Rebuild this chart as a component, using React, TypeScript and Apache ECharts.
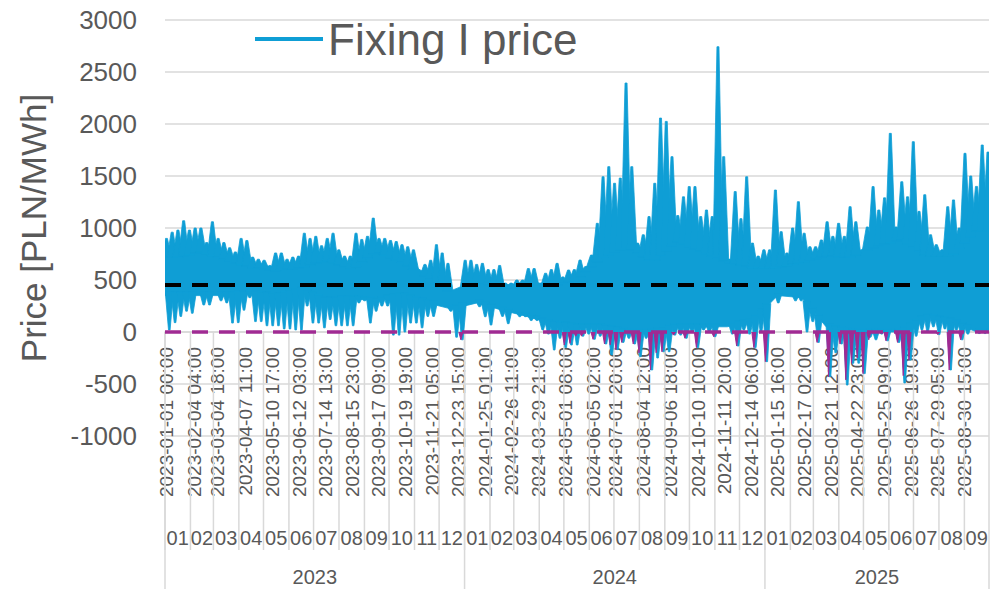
import React, { useEffect, useRef } from "react";
import * as echarts from "echarts";

const seriesName = "Fixing I price";
const startDate = "2023-01-01";
const endDate = "2025-10-01";
const averagePrice = 452;
const zeroLevel = 0;
const yMin = -1000;
const yMax = 3000;
const yInterval = 500;

// weekly extremes of the hourly price (week 0 starts 2023-01-01)
const weeklyMax = [
  900, 960, 980, 1070, 980, 1000, 1000, 860, 1060, 900,
  860, 810, 770, 900, 880, 720, 700, 690, 640, 760,
  760, 700, 720, 730, 950, 900, 920, 830, 900, 950,
  790, 730, 730, 950, 890, 920, 1095, 900, 900, 880,
  870, 840, 820, 790, 600, 650, 690, 840, 760, 660,
  400, 420, 690, 690, 650, 660, 600, 600, 640, 470,
  470, 500, 500, 610, 610, 470, 565, 600, 660, 530,
  596, 600, 692, 630, 740, 1045, 1493, 1590, 1430, 1480,
  2394, 1590, 855, 935, 1110, 1430, 2057, 2025, 1686, 1120,
  1300, 1398, 1398, 1110, 1173, 1110, 2743, 1686, 700, 1350,
  1090, 1493, 855, 730, 790, 790, 1365, 965, 760, 1000,
  1253, 950, 820, 820, 885, 1060, 920, 1045, 920, 1205,
  1060, 760, 1010, 1398, 1173, 1290, 1910, 1010, 1445, 1300,
  1830, 1160, 1320, 935, 840, 790, 1205, 1270, 1000, 1718,
  1500, 1400, 1798, 1730,
];
const weeklyMin = [
  20, 90, 150, 200, 180, 400, 260, 260, 450, 300,
  280, 86, 90, 210, 330, 100, 100, 60, 60, 60,
  30, 30, 20, 20, 250, 86, 86, 40, 120, 60,
  60, 60, 60, 280, 300, 86, 200, 250, 250, -30,
  -30, 0, 86, 86, 40, 150, 150, 280, 280, 200,
  -50, -75, 280, 300, 243, 147, 67, 243, 150, 80,
  210, 147, 147, 110, 110, 20, -20, -173, -60, -150,
  -125, -125, -40, -20, -70, -40, -115, -220, -170, -100,
  -60, -115, -237, -60, -365, -250, -190, -190, -30, -30,
  -60, 0, -150, 20, 0, -45, 50, 60, -20, -135,
  20, -20, -150, 0, -285, 350, 280, 400, 400, 300,
  300, 0, 100, -100, 150, -430, -200, -115, -510, -300,
  -300, -400, -50, -75, -20, -85, 0, -100, -490, -270,
  -40, 20, 0, 50, -25, 30, -365, 20, -75, -20,
  20, -15, -15, -15,
];
// monthly level of the dense body of the price band (Jan 2023 .. Sep 2025)
const monthlyBodyHigh = [
  750, 800, 720, 650, 620, 650, 720, 630, 800, 700, 560, 400,
  500, 450, 470, 470, 530, 740, 850, 700, 900, 800, 700, 650,
  650, 700, 760, 750, 850, 920, 760, 760, 1000,
];
const monthlyBodyLow = [
  350, 350, 350, 370, 340, 400, 300, 320, 300, 350, 280, 220,
  280, 210, 150, 80, 50, 50, 0, 0, 50, 50, 50, 100,
  350, 330, 50, 0, 0, 0, 150, 100, 0,
];
// weeks with negative-price dips (purple)
const negativeWeeks = [
  51, 69, 70, 71, 72, 74, 76, 77, 78, 79, 81, 82, 84, 85, 86, 88, 90, 92, 95,
  99, 102, 104, 113, 115, 117, 118, 119, 120, 121, 122, 125, 127, 128, 129,
  134, 136, 138,
];
const negativeDepths = [
  -75, -125, -110, -40, -40, -70, -115, -125, -170, -100, -115, -200, -365,
  -200, -190, -30, -60, -150, -45, -135, -150, -285, -100, -430, -115, -460,
  -300, -250, -400, -75, -85, -100, -420, -270, -25, -365, -75,
];

const dateLabels = [
  "2023-01-01 00:00", "2023-02-04 04:00", "2023-03-04 18:00", "2023-04-07 11:00",
  "2023-05-10 17:00", "2023-06-12 03:00", "2023-07-14 13:00", "2023-08-15 23:00",
  "2023-09-17 09:00", "2023-10-19 19:00", "2023-11-21 05:00", "2023-12-23 15:00",
  "2024-01-25 01:00", "2024-02-26 11:00", "2024-03-29 21:00", "2024-05-01 08:00",
  "2024-06-05 02:00", "2024-07-01 20:00", "2024-08-04 12:00", "2024-09-06 18:00",
  "2024-10-10 10:00", "2024-11-11 20:00", "2024-12-14 06:00", "2025-01-15 16:00",
  "2025-02-17 02:00", "2025-03-21 12:00", "2025-04-22 23:00", "2025-05-25 09:00",
  "2025-06-26 19:00", "2025-07-29 05:00", "2025-08-30 15:00",
];
const years = ["2023", "2024", "2025"];
const monthsPerYear = [12, 12, 9];

const FONT = '"Liberation Sans", Arial, sans-serif';
const TEXT = "#595959";
const GRID = "#D9D9D9";
const BLUE = "#0F9ED5";
const PURPLE = "#A02B93";

function dayOffset(s: string): number {
  const [d, t] = s.split(" ");
  const ms = Date.parse(d + "T" + (t || "00:00") + ":00Z");
  const base = Date.parse(startDate + "T00:00:00Z");
  return (ms - base) / 86400000;
}

const totalDays = dayOffset(endDate);

function nextMonth(y: string, m: number) {
  return m === 12 ? `${Number(y) + 1}-01-01` : `${y}-${String(m + 1).padStart(2, "0")}-01`;
}

function buildMonths() {
  const months: { start: number; end: number; label: string }[] = [];
  const yearsSeg: { start: number; end: number; label: string }[] = [];
  years.forEach((y, i) => {
    const n = monthsPerYear[i];
    for (let m = 1; m <= n; m++) {
      const mm = String(m).padStart(2, "0");
      months.push({ start: dayOffset(`${y}-${mm}-01`), end: dayOffset(nextMonth(y, m)), label: mm });
    }
    yearsSeg.push({ start: dayOffset(`${y}-01-01`), end: dayOffset(nextMonth(y, n)), label: y });
  });
  return { months, yearsSeg };
}

export default function App() {
  const ref = useRef<HTMLDivElement>(null);
  useEffect(() => {
    if (!ref.current) return;
    const chart = echarts.init(ref.current, undefined, { renderer: "svg" });
    const { months, yearsSeg } = buildMonths();
    const centers = months.map((m) => (m.start + m.end) / 2);

    const interp = (arr: number[], t: number) => {
      if (t <= centers[0]) return arr[0];
      const n = centers.length - 1;
      if (t >= centers[n]) return arr[n];
      for (let i = 0; i < n; i++) {
        if (t >= centers[i] && t <= centers[i + 1]) {
          const f = (t - centers[i]) / (centers[i + 1] - centers[i]);
          return arr[i] + f * (arr[i + 1] - arr[i]);
        }
      }
      return arr[n];
    };

    const bodyTop: number[][] = [[0, monthlyBodyHigh[0]]];
    const bodyBottom: number[][] = [[0, monthlyBodyLow[0]]];
    centers.forEach((c, i) => {
      bodyTop.push([c, monthlyBodyHigh[i]]);
      bodyBottom.push([c, monthlyBodyLow[i]]);
    });
    bodyTop.push([totalDays, monthlyBodyHigh[monthlyBodyHigh.length - 1]]);
    bodyBottom.push([totalDays, monthlyBodyLow[monthlyBodyLow.length - 1]]);

    const priceData = weeklyMax.map((v, w) => [7 * w + 1.75, v, 7 * w + 5.25, weeklyMin[w]]);

    const negData: any[] = [];
    negativeWeeks.forEach((w, i) => {
      negData.push([7 * w + 1.0, zeroLevel]);
      negData.push([7 * w + 3.5, negativeDepths[i]]);
      negData.push([7 * w + 6.0, zeroLevel]);
      negData.push(null);
    });

    const textStyle = (text: string, size: number, align: string) => ({
      text,
      align,
      verticalAlign: "middle",
      textAlign: align,
      textVerticalAlign: "middle",
      fill: TEXT,
      fontSize: size,
      fontFamily: FONT,
    });
    const fillStyle = { fill: BLUE, stroke: BLUE, lineWidth: 0.8 };

    chart.setOption({
      animation: false,
      grid: { left: 165, right: 14, top: 20, bottom: 153, containLabel: false },
      legend: {
        data: [{ name: seriesName, icon: "rect" }],
        left: 250,
        top: 12,
        itemWidth: 68,
        itemHeight: 4,
        itemGap: 8,
        textStyle: { fontSize: 44, color: TEXT, fontFamily: FONT },
      },
      xAxis: {
        type: "value",
        min: 0,
        max: totalDays,
        axisLine: { show: true, onZero: true, lineStyle: { color: GRID, width: 1.5 } },
        axisTick: { show: false },
        axisLabel: { show: false },
        splitLine: { show: false },
      },
      yAxis: {
        type: "value",
        min: yMin,
        max: yMax,
        interval: yInterval,
        name: "Price [PLN/MWh]",
        nameLocation: "middle",
        nameGap: 114,
        nameTextStyle: { fontSize: 35, color: TEXT, fontFamily: FONT },
        axisLine: { show: false },
        axisTick: { show: false },
        axisLabel: {
          fontSize: 26,
          color: TEXT,
          fontFamily: FONT,
          margin: 28,
          formatter: (v: number) => String(v),
        },
        splitLine: { show: true, lineStyle: { color: GRID, width: 1.5 } },
      },
      series: [
        {
          name: "dateLabels",
          type: "custom",
          silent: true,
          clip: false,
          z: 1,
          data: dateLabels.map((s) => [dayOffset(s), 0]),
          encode: { x: 0, y: 1 },
          renderItem: (params: any, api: any) => {
            const p = api.coord([api.value(0), 0]);
            return {
              type: "text",
              x: p[0] + 1,
              y: p[1] + 15,
              rotation: Math.PI / 2,
              style: textStyle(dateLabels[params.dataIndex], 19, "right"),
            };
          },
        },
        {
          name: "months",
          type: "custom",
          silent: true,
          clip: false,
          z: 1,
          data: months.map((m) => [m.start, 0, m.end]),
          encode: { x: [0, 2], y: 1 },
          renderItem: (params: any, api: any) => {
            const a = api.coord([api.value(0), 0]);
            const b = api.coord([api.value(2), 0]);
            return {
              type: "group",
              children: [
                {
                  type: "line",
                  shape: { x1: a[0], y1: a[1], x2: a[0], y2: a[1] + 218 },
                  style: { stroke: GRID, lineWidth: 1.5 },
                },
                {
                  type: "text",
                  x: (a[0] + b[0]) / 2,
                  y: a[1] + 206,
                  style: textStyle(months[params.dataIndex].label, 20, "center"),
                },
              ],
            };
          },
        },
        {
          name: "years",
          type: "custom",
          silent: true,
          clip: false,
          z: 1,
          data: yearsSeg.map((m) => [m.start, 0, m.end]),
          encode: { x: [0, 2], y: 1 },
          renderItem: (params: any, api: any) => {
            const a = api.coord([api.value(0), 0]);
            const b = api.coord([api.value(2), 0]);
            const children: any[] = [
              {
                type: "line",
                shape: { x1: a[0], y1: a[1], x2: a[0], y2: a[1] + 260 },
                style: { stroke: GRID, lineWidth: 1.5 },
              },
              {
                type: "text",
                x: (a[0] + b[0]) / 2,
                y: a[1] + 245,
                style: textStyle(yearsSeg[params.dataIndex].label, 20, "center"),
              },
            ];
            if (params.dataIndex === yearsSeg.length - 1) {
              children.push({
                type: "line",
                shape: { x1: b[0], y1: b[1], x2: b[0], y2: b[1] + 260 },
                style: { stroke: GRID, lineWidth: 1.5 },
              });
            }
            return { type: "group", children };
          },
        },
        {
          name: seriesName,
          type: "custom",
          clip: true,
          z: 2,
          itemStyle: { color: BLUE },
          data: priceData,
          encode: { x: [0, 2], y: [1, 3] },
          renderItem: (params: any, api: any) => {
            const children: any[] = [];
            if (params.dataIndex === 0) {
              const top = bodyTop.map((p) => api.coord(p));
              const bottom = bodyBottom.map((p) => api.coord(p)).reverse();
              children.push({
                type: "polygon",
                shape: { points: top.concat(bottom) },
                style: fillStyle,
              });
            }
            const tMax = api.value(0);
            const vMax = api.value(1);
            const tMin = api.value(2);
            const vMin = api.value(3);
            const hi = interp(monthlyBodyHigh, tMax);
            if (vMax > hi) {
              const b = api.coord([tMax, hi - 30]);
              const a = api.coord([tMax, vMax]);
              children.push({
                type: "polygon",
                shape: {
                  points: [
                    [b[0] - 5, b[1]],
                    [a[0] - 1, a[1]],
                    [a[0] + 1, a[1]],
                    [b[0] + 5, b[1]],
                  ],
                },
                style: fillStyle,
              });
            }
            const lo = interp(monthlyBodyLow, tMin);
            if (vMin < lo) {
              const b = api.coord([tMin, lo + 30]);
              const a = api.coord([tMin, vMin]);
              children.push({
                type: "polygon",
                shape: {
                  points: [
                    [b[0] - 4, b[1]],
                    [a[0] - 0.8, a[1]],
                    [a[0] + 0.8, a[1]],
                    [b[0] + 4, b[1]],
                  ],
                },
                style: fillStyle,
              });
            }
            return { type: "group", children };
          },
        },
        {
          name: "Negative",
          type: "line",
          data: negData,
          showSymbol: false,
          symbol: "none",
          connectNulls: false,
          lineStyle: { color: PURPLE, width: 1 },
          areaStyle: { color: PURPLE, opacity: 1, origin: 0 },
          z: 3,
        },
        {
          name: "Zero",
          type: "line",
          data: [[0, zeroLevel], [totalDays, zeroLevel]],
          showSymbol: false,
          symbol: "none",
          lineStyle: { color: PURPLE, width: 3.5, type: [16, 11] },
          z: 4,
        },
        {
          name: "Average",
          type: "line",
          data: [[0, averagePrice], [totalDays, averagePrice]],
          showSymbol: false,
          symbol: "none",
          lineStyle: { color: "#000000", width: 4, type: [16, 11] },
          z: 4,
        },
      ],
    });
    return () => chart.dispose();
  }, []);
  return (
    <div
      ref={ref}
      style={{ position: "fixed", left: 0, top: 0, width: 1003, height: 589, background: "#ffffff" }}
    />
  );
}
